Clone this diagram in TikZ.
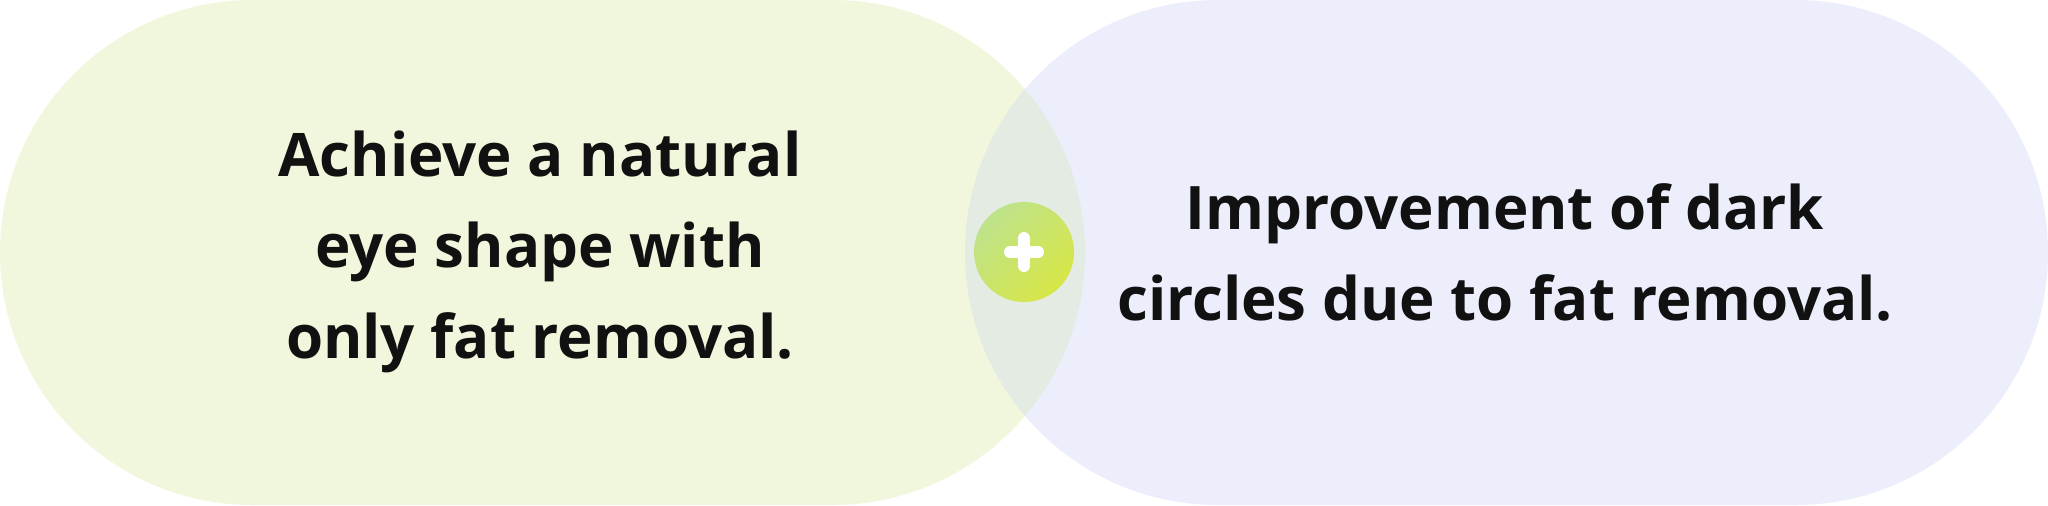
\documentclass[tikz,border=0pt]{standalone}
\usepackage{fontspec}
\setmainfont{Open Sans}
\definecolor{leftfill}{HTML}{F1F7DC}
\definecolor{rightfill}{HTML}{ECEFFB}
\definecolor{overlapfill}{HTML}{E3EBE2}
\definecolor{gradA}{HTML}{BEE38C}
\definecolor{gradB}{HTML}{D7E646}
\definecolor{textcol}{HTML}{111111}
\begin{document}
\begin{tikzpicture}[x=0.5pt,y=-0.5pt,
  pilltext/.style={text=textcol, align=center, font=\bfseries\fontsize{30pt}{45.5pt}\selectfont},
  plusarm/.style={white, line width=6pt, line cap=round}]
\useasboundingbox (0,0) rectangle (2048,505);
\fill[leftfill, rounded corners=126.25pt] (0,0) rectangle (1085,505);
\fill[rightfill, rounded corners=126.25pt] (965,0) rectangle (2048,505);
\begin{scope}
  \clip[rounded corners=126.25pt] (0,0) rectangle (1085,505);
  \fill[overlapfill, rounded corners=126.25pt] (965,0) rectangle (2048,505);
\end{scope}
\node[pilltext] (lefttext) at (540,252) {Achieve a natural\\eye shape with\\only fat removal.};
\node[pilltext] (righttext) at (1505,252) {Improvement of dark\\circles due to fat removal.};
\shade[top color=gradA, bottom color=gradB, shading angle=45] (1024,252) circle[radius=25pt];
\coordinate (plus) at (1024,252);
\draw[plusarm] ([xshift=-7pt]plus) -- ([xshift=7pt]plus);
\draw[plusarm] ([yshift=-7pt]plus) -- ([yshift=7pt]plus);
\end{tikzpicture}
\end{document}
